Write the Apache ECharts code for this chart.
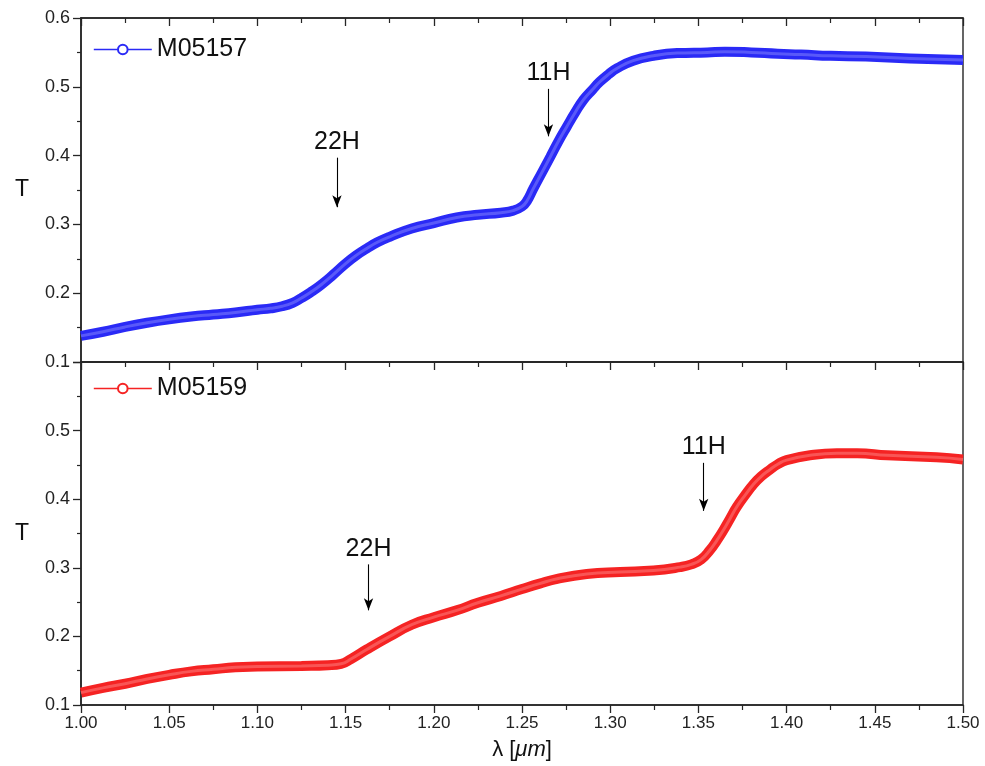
<!DOCTYPE html>
<html>
<head>
<meta charset="utf-8">
<script src="https://cdn.jsdelivr.net/npm/echarts@6/dist/echarts.min.js"></script>
<style>
html,body{margin:0;padding:0;background:#fff;}
#chart{width:985px;height:766px;}
</style>
</head>
<body>
<div id="chart"></div>
<script>
// ---- data ----
var xTicks = [1.00,1.05,1.10,1.15,1.20,1.25,1.30,1.35,1.40,1.45,1.50];
var yTicks = [0.1,0.2,0.3,0.4,0.5,0.6];

var nameTop = 'M05157';
var wlTop = [1.000,1.0125,1.025,1.0375,1.050,1.0625,1.075,1.0875,1.100,1.1075,1.114,1.120,1.125,1.130,1.136,1.143,1.150,1.156,1.162,1.168,1.175,1.1875,1.200,1.213,1.225,1.238,1.245,1.250,1.2528,1.2564,1.261,1.266,1.2705,1.2754,1.280,1.2848,1.290,1.294,1.299,1.304,1.313,1.3245,1.338,1.355,1.365,1.380,1.395,1.408,1.425,1.445,1.470,1.500];
var tTop  = [0.138,0.144,0.151,0.157,0.162,0.166,0.169,0.172,0.176,0.178,0.181,0.186,0.193,0.201,0.212,0.227,0.243,0.255,0.265,0.274,0.282,0.294,0.302,0.310,0.314,0.317,0.320,0.326,0.334,0.352,0.374,0.398,0.420,0.442,0.462,0.481,0.496,0.507,0.518,0.527,0.538,0.545,0.549,0.550,0.551,0.550,0.548,0.547,0.545,0.544,0.541,0.539];

var nameBot = 'M05159';
var wlBot = [1.000,1.0125,1.025,1.0375,1.050,1.0625,1.075,1.0875,1.100,1.125,1.140,1.1475,1.153,1.162,1.175,1.1875,1.200,1.213,1.225,1.238,1.250,1.260,1.270,1.2867,1.3056,1.3245,1.3396,1.346,1.3515,1.3566,1.3605,1.3642,1.3680,1.3718,1.3765,1.381,1.3855,1.3905,1.395,1.400,1.4133,1.4285,1.440,1.457,1.485,1.500];
var tBot  = [0.118,0.125,0.131,0.138,0.144,0.149,0.152,0.155,0.156,0.157,0.158,0.160,0.167,0.181,0.200,0.217,0.228,0.238,0.249,0.259,0.269,0.277,0.284,0.291,0.294,0.296,0.301,0.305,0.312,0.326,0.340,0.355,0.372,0.389,0.406,0.421,0.433,0.443,0.451,0.457,0.464,0.467,0.467,0.464,0.461,0.458];

// annotation arrows: label, wavelength, start T, tip T
var arrowLabelsTop = ['22H','11H'];
var arrowXTop = [1.1451,1.2650];
var arrowFromTop = [0.397,0.497];
var arrowToTop = [0.325,0.428];

var arrowLabelsBot = ['22H','11H'];
var arrowXBot = [1.1630,1.3530];
var arrowFromBot = [0.305,0.453];
var arrowToBot = [0.238,0.383];

// ---- build ----
function zip(a,b){return a.map(function(v,i){return [v,b[i]];});}
function arrows(lbl,xs,from,to){
  return lbl.map(function(l,i){
    return [{coord:[xs[i],from[i]],name:l},{coord:[xs[i],to[i]]}];
  });
}
var FONT = '"Liberation Sans", Arial, sans-serif';
var NARROW = '"Liberation Sans Narrow", "Liberation Sans", Arial, sans-serif';
var AX = '#262626';

function xAxisCfg(grid, pos, labels, inside){
  return {
    type:'value', gridIndex:grid, position:pos, min:1.0, max:1.5, interval:0.05,
    axisLine:{show:true, onZero:false, lineStyle:{color:AX,width:1.6}},
    axisTick:{show:true, inside:inside, length:8, lineStyle:{color:AX,width:1.3}},
    minorTick:{show:true, splitNumber:2, length:5, lineStyle:{color:AX,width:1.2}},
    splitLine:{show:false},
    axisLabel:{show:labels, color:'#222', fontFamily:NARROW, fontSize:17, margin:10,
      formatter:function(v){return v.toFixed(2);}}
  };
}
function yAxisCfg(grid, showMax){
  return {
    type:'value', gridIndex:grid, min:0.1, max:0.6, interval:0.1,
    name:'T', nameLocation:'middle', nameRotate:0, nameGap:52,
    nameTextStyle:{fontFamily:FONT, fontSize:23, color:'#111'},
    axisLine:{show:true, onZero:false, lineStyle:{color:AX,width:1.6}},
    axisTick:{show:true, inside:false, length:8, lineStyle:{color:AX,width:1.3}},
    minorTick:{show:true, splitNumber:2, length:4, lineStyle:{color:AX,width:1.2}},
    splitLine:{show:false},
    axisLabel:{color:'#222', fontFamily:FONT, fontSize:18, margin:11, showMaxLabel:showMax,
      formatter:function(v){return v.toFixed(1);}}
  };
}
function lineSeries(name, xi, yi, data, color, arrowData){
  return {
    name:name, type:'line', xAxisIndex:xi, yAxisIndex:yi, data:data,
    smooth:0.5,
    symbol:'emptyCircle', symbolSize:10, showSymbol:false,
    lineStyle:{color:color, width:10},
    itemStyle:{color:color},
    z:3,
    markLine:{
      silent:true, symbol:['none','arrow'], symbolSize:[7,12],
      lineStyle:{color:'#000', width:1.1, type:'solid'},
      label:{show:true, position:'start', distance:3, formatter:'{b}',
        fontFamily:FONT, fontSize:25, color:'#111'},
      data:arrowData
    }
  };
}
function innerSeries(xi, yi, data, color){
  return {
    name:'_inner', type:'line', xAxisIndex:xi, yAxisIndex:yi, data:data,
    smooth:0.5, showSymbol:false, silent:true, z:4,
    lineStyle:{color:color, width:3, opacity:0.4}
  };
}

var chart = echarts.init(document.getElementById('chart'), null, {renderer:'canvas'});
var option = {
  backgroundColor:'#fff',
  animation:false,
  textStyle:{fontFamily:FONT},
  grid:[
    {left:81, right:22, top:18, height:344, show:true, borderColor:AX, borderWidth:1.4, backgroundColor:'transparent'},
    {left:81, right:22, top:362, height:343, show:true, borderColor:AX, borderWidth:1.4, backgroundColor:'transparent'}
  ],
  legend:[
    {data:[nameTop], left:88, top:32, itemWidth:58, itemHeight:12, itemGap:7,
      textStyle:{fontFamily:FONT, fontSize:25, color:'#111'},
      lineStyle:{width:1.6}, itemStyle:{borderWidth:1.6}},
    {data:[nameBot], left:88, top:371, itemWidth:58, itemHeight:12, itemGap:7,
      textStyle:{fontFamily:FONT, fontSize:25, color:'#111'},
      lineStyle:{width:1.6}, itemStyle:{borderWidth:1.6}}
  ],
  xAxis:[
    xAxisCfg(0,'bottom',false,false),
    xAxisCfg(0,'top',false,true),
    Object.assign(xAxisCfg(1,'bottom',true,false),{
      name:'λ [{i|μm}]', nameLocation:'middle', nameGap:34,
      nameTextStyle:{fontFamily:FONT, fontSize:22, color:'#111',
        rich:{i:{fontFamily:FONT, fontSize:22, fontStyle:'italic', color:'#111'}}}
    })
  ],
  yAxis:[yAxisCfg(0,true), yAxisCfg(1,false)],
  series:[
    lineSeries(nameTop,0,0,zip(wlTop,tTop),'#2a2af6',arrows(arrowLabelsTop,arrowXTop,arrowFromTop,arrowToTop)),
    lineSeries(nameBot,2,1,zip(wlBot,tBot),'#f52323',arrows(arrowLabelsBot,arrowXBot,arrowFromBot,arrowToBot)),
    innerSeries(0,0,zip(wlTop,tTop),'#a0a0ff'),
    innerSeries(2,1,zip(wlBot,tBot),'#ffa0a0')
  ]
};
chart.setOption(option);
</script>
</body>
</html>
